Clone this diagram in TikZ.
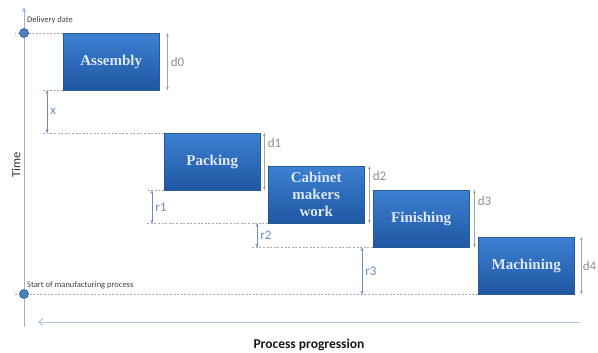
\documentclass[tikz,border=0pt]{standalone}
\usepackage{fontspec}
\setmainfont{Carlito}
\newfontfamily\taskfont{Liberation Serif}
\usetikzlibrary{positioning,calc,shadows,arrows.meta}
\definecolor{tasktop}{HTML}{3D80D2}
\definecolor{taskbot}{HTML}{1F57A3}
\definecolor{taskline}{HTML}{2A5891}
\definecolor{tasktext}{HTML}{DDE7F3}
\definecolor{axisblue}{HTML}{9AB5D8}
\definecolor{dotblue}{HTML}{4F81BD}
\definecolor{gapblue}{HTML}{6A8CC0}
\definecolor{guidegray}{HTML}{A8A8A8}
\definecolor{durgray}{HTML}{8F8F8F}

\begin{document}
\begin{tikzpicture}[x=1pt,y=-1pt,
	task/.style={draw=taskline, top color=tasktop, bottom color=taskbot, text=tasktext,
		font=\taskfont\bfseries\fontsize{15}{17}\selectfont, align=center,
		minimum width=96pt, minimum height=57pt, inner sep=0pt, anchor=north west,
		drop shadow={opacity=0.35, shadow xshift=1.2pt, shadow yshift=-1.2pt}},
	dot/.style={circle, fill=dotblue, draw=taskline, line width=0.6pt, minimum size=9pt, inner sep=0pt},
	guide/.style={draw=guidegray, dashed, dash pattern=on 2pt off 1.6pt, line width=0.6pt},
	dur/.style={draw=durgray!80, line width=0.7pt, {Stealth[length=3.5pt,width=3pt]}-{Stealth[length=3.5pt,width=3pt]}},
	gap/.style={draw=gapblue, line width=0.7pt, {Stealth[length=3.5pt,width=3pt]}-{Stealth[length=3.5pt,width=3pt]}},
	durlabel/.style={text=durgray, font=\fontsize{13}{15}\selectfont, right, inner sep=3pt},
	gaplabel/.style={text=gapblue, font=\fontsize{13}{15}\selectfont, right, inner sep=3pt},
	note/.style={text=black!75, font=\fontsize{8.5}{10}\selectfont, anchor=west, inner sep=0pt}]
	\useasboundingbox (0,0) rectangle (598,353);

	\node[task] (assembly) at (63,33) {Assembly};
	\node[task] (packing) at (164,133) {Packing};
	\node[task] (cabinet) at (268,166) {Cabinet\\makers\\work};
	\node[task] (finishing) at (373,190) {Finishing};
	\node[task] (machining) at (478,237) {Machining};

	\coordinate (tbase) at (24,327);
	\coordinate (ttip) at (24,7);
	\coordinate (pstart) at (580,322);
	\coordinate (pend) at (38,322);
	\coordinate (xg) at (43,0);
	\coordinate (rg) at (147,0);
	\coordinate (lg) at (15,0);

	\draw[draw=axisblue, line width=1pt, -{Stealth[length=5pt,width=4pt]}] (tbase) -- (ttip);
	\draw[draw=axisblue!80, line width=1pt, -{Straight Barb[length=4pt,width=7pt]}] (pstart) -- (pend);

	\draw[guide] (assembly.north west) -- (assembly.north west -| lg);
	\draw[guide] (assembly.south west) -- (assembly.south west -| xg);
	\draw[guide] (packing.north west) -- (packing.north west -| xg);
	\draw[guide] (packing.south west) -- (packing.south west -| rg);
	\draw[guide] (cabinet.south west) -- (cabinet.south west -| rg);
	\draw[guide] (finishing.south west) -- ++(-121,0) coordinate (fg);
	\draw[guide] (machining.south west) -- (machining.south west -| lg);

	\node[dot] (delivery) at (24,33) {};
	\node[dot] (start) at (24,294) {};
	\node[note] (deliverytext) at (27,20) {Delivery date};
	\node[note] (starttext) at (27,285) {Start of manufacturing process};

	\path (assembly.south west) ++(-16,0) coordinate (xa);
	\path (packing.south west) ++(-12,0) coordinate (ra);
	\path (cabinet.south west) ++(-11,0) coordinate (rb);
	\path (finishing.south west) ++(-11,0) coordinate (rc);
	\draw[gap] (xa) -- (xa |- packing.north) node[midway, gaplabel] {x};
	\draw[gap] (ra) -- (ra |- cabinet.south) node[midway, gaplabel] {r1};
	\draw[gap] (rb) -- (rb |- finishing.south) node[midway, gaplabel] {r2};
	\draw[gap] (rc) -- (rc |- machining.south) node[midway, gaplabel] {r3};

	\draw[dur] ([xshift=8pt]assembly.north east) -- ([xshift=8pt]assembly.south east) node[midway, durlabel] {d0};
	\draw[dur] ([xshift=4pt]packing.north east) -- ([xshift=4pt]packing.south east) node[pos=0.17, durlabel] {d1};
	\draw[dur] ([xshift=5pt]cabinet.north east) -- ([xshift=5pt]cabinet.south east) node[pos=0.17, durlabel] {d2};
	\draw[dur] ([xshift=5pt]finishing.north east) -- ([xshift=5pt]finishing.south east) node[pos=0.19, durlabel] {d3};
	\draw[dur] ([xshift=7pt]machining.north east) -- ([xshift=7pt]machining.south east) node[midway, durlabel, inner sep=1pt] {d4};

	\node[rotate=90, text=black!80, font=\fontsize{12.5}{14}\selectfont] (time) at (16,165) {Time};
	\node[text=black!90, font=\bfseries\fontsize{13.5}{15}\selectfont] (progress) at (309,345) {Process progression};
\end{tikzpicture}
\end{document}
